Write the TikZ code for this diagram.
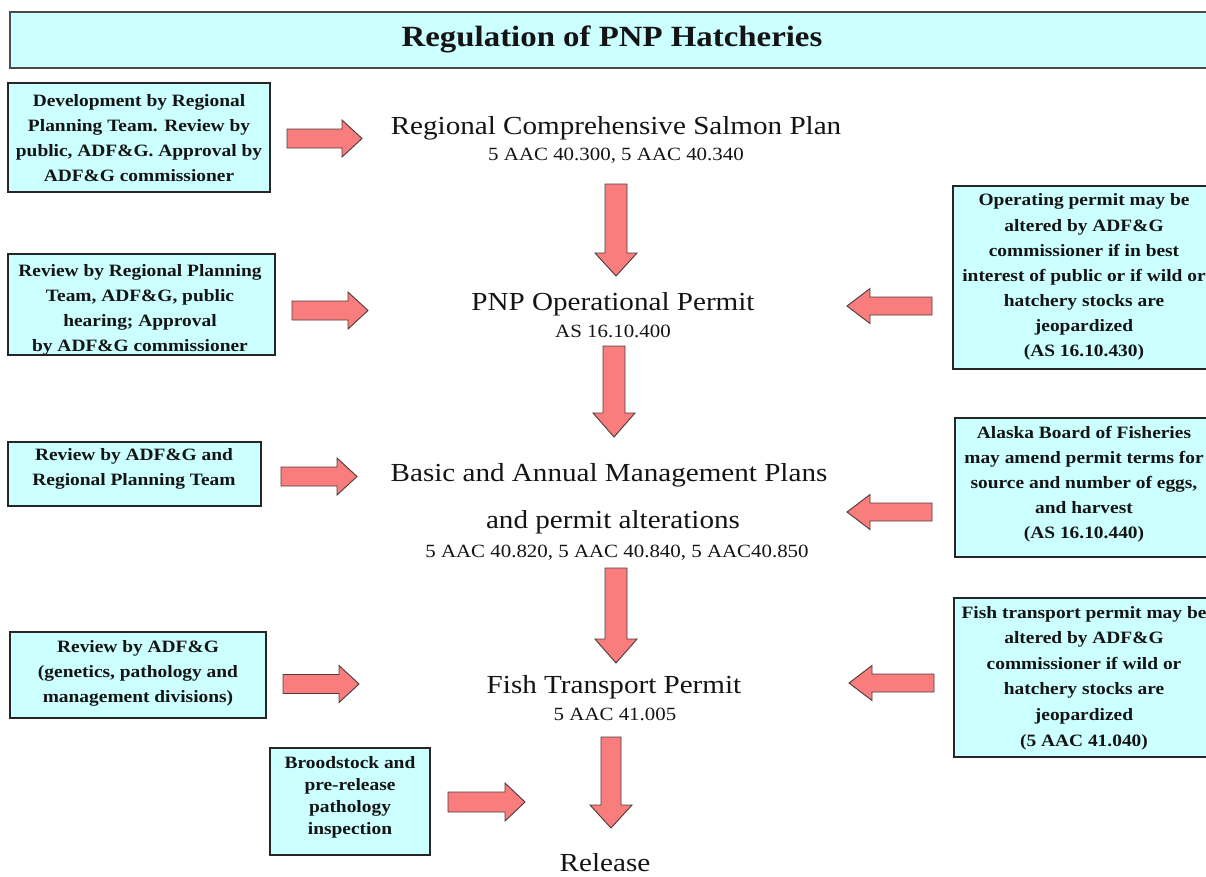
\documentclass[tikz,border=0pt]{standalone}
\usepackage{fontspec}
\setmainfont{Liberation Serif}[FakeStretch=1.12]
\definecolor{boxcyan}{RGB}{204,255,255}
\definecolor{arrowred}{RGB}{250,125,125}
\definecolor{arrowedge}{RGB}{80,60,60}
\definecolor{txt}{RGB}{20,20,20}
\newcommand\blkarrow[7]{%
  \draw[blockarrow, shift={(#1,#2)}, rotate=#3]
    (0,-#5) -- (#4-#7,-#5) -- (#4-#7,-#6) -- (#4,0) -- (#4-#7,#6) -- (#4-#7,#5) -- (0,#5) -- cycle;}
\tikzset{
  blockarrow/.style={fill=arrowred, draw=arrowedge, line width=0.7pt, line join=miter},
  infobox/.style={draw=black!85, fill=boxcyan, line width=1.1pt},
  boxtext/.style={align=center, text=txt, font=\fontsize{13}{18.8}\selectfont\bfseries, inner sep=0pt},
  maintext/.style={text=txt, font=\fontsize{19.5}{24}\selectfont, inner sep=0pt, anchor=base},
  subtext/.style={text=txt, font=\fontsize{14}{17}\selectfont, inner sep=0pt, anchor=base}
}
\begin{document}
\begin{tikzpicture}[x=0.75pt,y=-0.75pt]
\useasboundingbox (0,0) rectangle (1206,876);
\clip (0,0) rectangle (1206,876);
\fill[white] (0,0) rectangle (1206,876);
% title
\draw[fill=boxcyan, draw=black!70, line width=1.4pt] (10,12) rectangle (1214,68);
\node[text=txt, font=\fontsize{22}{26}\selectfont\bfseries, inner sep=0pt, anchor=base] (title) at (612,46) {Regulation of PNP Hatcheries};
% left boxes
\draw[infobox] (8,83) rectangle (270,192);
\node[boxtext] (l1) at (139,138) {Development by Regional\\Planning Team. Review by\\public, ADF\&G. Approval by\\ADF\&G commissioner};
\draw[infobox] (8,254) rectangle (275,355);
\node[boxtext] (l2) at (140,310) {Review by Regional Planning\\Team, ADF\&G, public\\hearing; Approval\\by ADF\&G commissioner};
\draw[infobox] (8,442) rectangle (261,506);
\node[boxtext] (l3) at (134,469) {Review by ADF\&G and\\Regional Planning Team};
\draw[infobox] (10,632) rectangle (266,718);
\node[boxtext] (l4) at (138,673) {Review by ADF\&G\\(genetics, pathology and\\management divisions)};
\draw[infobox] (270,748) rectangle (430,855);
\node[boxtext, font=\fontsize{13}{16.5}\selectfont\bfseries] (l5) at (350,797) {Broodstock and\\pre-release\\pathology\\inspection};
% right boxes
\draw[infobox] (953,186) rectangle (1215,369);
\node[boxtext] (r1) at (1084,277) {Operating permit may be\\altered by ADF\&G\\commissioner if in best\\interest of public or if wild or\\hatchery stocks are\\jeopardized\\(AS 16.10.430)};
\draw[infobox] (955,418) rectangle (1215,557);
\node[boxtext] (r2) at (1084,484) {Alaska Board of Fisheries\\may amend permit terms for\\source and number of eggs,\\and harvest\\(AS 16.10.440)};
\draw[infobox] (954,598) rectangle (1215,757);
\node[boxtext, font=\fontsize{13}{19.2}\selectfont\bfseries] (r3) at (1084,678) {Fish transport permit may be\\altered by ADF\&G\\commissioner if wild or\\hatchery stocks are\\jeopardized\\(5 AAC 41.040)};
% center texts
\node[maintext] (c1) at (616,134) {Regional Comprehensive Salmon Plan};
\node[subtext] (c1s) at (616,160) {5 AAC 40.300, 5 AAC 40.340};
\node[maintext] (c2) at (613,310) {PNP Operational Permit};
\node[subtext] (c2s) at (613,337) {AS 16.10.400};
\node[maintext] (c3) at (609,481) {Basic and Annual Management Plans};
\node[maintext] (c3b) at (613,528) {and permit alterations};
\node[subtext] (c3s) at (617,557) {5 AAC 40.820, 5 AAC 40.840, 5 AAC40.850};
\node[maintext] (c4) at (614,693) {Fish Transport Permit};
\node[subtext] (c4s) at (615,720) {5 AAC 41.005};
\node[maintext] (c5) at (605,871) {Release};
% right-pointing arrows
\blkarrow{287}{138.5}{0}{75}{9.5}{18.5}{20}
\blkarrow{292}{310.5}{0}{76}{9.5}{18.5}{20}
\blkarrow{281}{476.5}{0}{76}{9.5}{18.5}{20}
\blkarrow{283}{684}{0}{76}{9.5}{18.5}{20}
\blkarrow{448}{802}{0}{77}{10}{19}{20}
% left-pointing arrows
\blkarrow{932}{306}{180}{85}{9}{17.5}{23}
\blkarrow{932}{512}{180}{85}{9}{17.5}{23}
\blkarrow{934}{683}{180}{85}{9}{17.5}{23}
% down arrows
\blkarrow{616}{184}{-90}{92}{11}{21}{23}
\blkarrow{614}{346}{-90}{91}{11}{21}{24}
\blkarrow{616}{568}{-90}{95}{11}{21}{24}
\blkarrow{611}{737}{-90}{91}{10}{21}{23}
\end{tikzpicture}
\end{document}
